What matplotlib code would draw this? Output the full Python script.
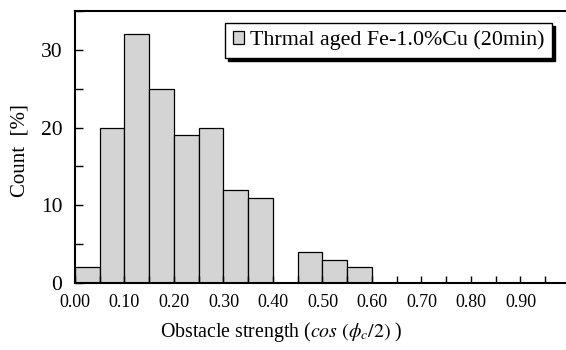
import matplotlib
matplotlib.use("Agg")
import matplotlib.pyplot as plt
from matplotlib.ticker import MultipleLocator, FormatStrFormatter

#===============================================================================
# histogram data
bin_edges = [0.00, 0.05, 0.10, 0.15, 0.20, 0.25, 0.30, 0.35, 0.40, 0.45, 0.50, 0.55]
counts = [2, 20, 32, 25, 19, 20, 12, 11, 0, 4, 3, 2]
bin_width = 0.05
legend_label = "Thrmal aged Fe-1.0%Cu (20min)"
x_label = r"Obstacle strength ($\mathit{cos\ (\phi_c/2)}$ )"
y_label = "Count  [%]"

#===============================================================================
plt.rcParams["font.family"] = ["Liberation Serif", "DejaVu Serif"]
plt.rcParams["mathtext.fontset"] = "stix"

fig = plt.figure(figsize=(5.66, 3.5), dpi=100)
ax = fig.add_axes([75 / 566, 67 / 350, 491 / 566, 272 / 350])

ax.bar(bin_edges, counts, width=bin_width, align="edge",
       color="#d4d4d4", edgecolor="black", linewidth=0.9, label=legend_label)

ax.set_xlim(0, 0.992)
ax.set_ylim(0, 35)

ax.xaxis.set_major_locator(MultipleLocator(0.1))
ax.xaxis.set_minor_locator(MultipleLocator(0.05))
ax.xaxis.set_major_formatter(FormatStrFormatter("%.2f"))
ax.yaxis.set_major_locator(MultipleLocator(10))
ax.yaxis.set_minor_locator(MultipleLocator(5))

ax.tick_params(axis="both", which="both", direction="in", width=1.0)
ax.tick_params(axis="x", which="both", length=5, pad=8, labelsize=13)
ax.tick_params(axis="y", which="both", length=6, pad=9, labelsize=15.5)

for side in ["left", "bottom", "top"]:
    ax.spines[side].set_linewidth(1.5)
ax.spines["right"].set_visible(False)

ax.set_xlabel(x_label, fontsize=14.3)
ax.set_ylabel(y_label, fontsize=15)
ax.xaxis.set_label_coords(0.42, -0.135)
ax.yaxis.set_label_coords(-0.092, 0.488)

leg = ax.legend(loc="upper right", bbox_to_anchor=(0.971, 0.956), fontsize=15.8,
                frameon=True, fancybox=False, shadow={"color": "black", "alpha": 1.0},
                handlelength=0.5, handleheight=0.5, handletextpad=0.25,
                borderpad=0.35, borderaxespad=0)
leg.get_frame().set_edgecolor("black")
leg.get_frame().set_linewidth(1.0)

fig.savefig("out.png", dpi=100)
